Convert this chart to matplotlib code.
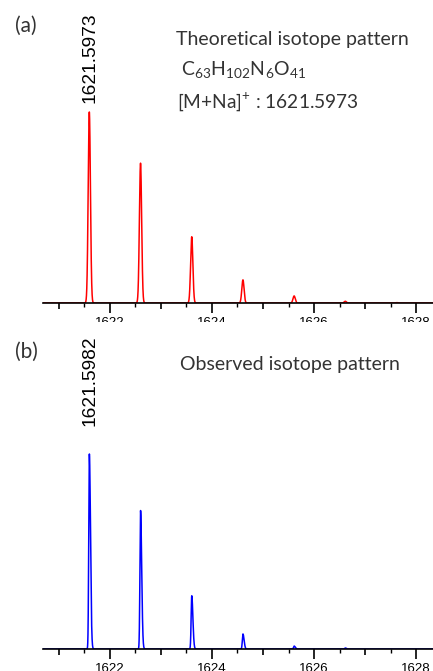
import numpy as np
import matplotlib
matplotlib.use("Agg")
import matplotlib.pyplot as plt
from matplotlib.ticker import MultipleLocator, FuncFormatter

# ---- data ----
theo_mz = [1621.5973, 1622.6006, 1623.6037, 1624.6066, 1625.6094, 1626.612, 1627.615]
theo_int = [100, 73.2, 34.7, 12.1, 3.7, 0.9, 0.2]
obs_mz = [1621.5982, 1622.6010, 1623.6040, 1624.6070, 1625.6100, 1626.6120]
obs_int = [100, 71.0, 27.3, 7.7, 1.5, 0.5]
xticks = [1622, 1624, 1626, 1628]
theo_label = "1621.5973"
obs_label = "1621.5982"

W, H = 433, 671
fig = plt.figure(figsize=(W / 100, H / 100), dpi=100)
plt.rcParams['mathtext.fontset'] = 'custom'
plt.rcParams['mathtext.rm'] = 'Lato'

xmin, xmax = 1620.69, 1628.33
TXT = '#333333'


def fx(px):
    return px / W


def fy(py):
    return 1 - py / H


def profile(x, centers, heights, sl, sr):
    y = np.zeros_like(x)
    for c, h in zip(centers, heights):
        d = x - c
        s = np.where(d < 0, sl, sr)
        y += h * np.exp(-0.5 * (d / s) ** 2)
    return y


def style(ax):
    ax.set_xlim(xmin, xmax)
    for s in ['top', 'left', 'right']:
        ax.spines[s].set_visible(False)
    ax.spines['bottom'].set_linewidth(1.2)
    ax.set_yticks([])
    ax.xaxis.set_major_locator(MultipleLocator(1))
    ax.xaxis.set_minor_locator(MultipleLocator(0.5))
    ax.xaxis.set_major_formatter(FuncFormatter(
        lambda v, p: str(int(round(v))) if int(round(v)) in xticks else ""))
    ax.tick_params(axis='x', which='major', length=7, width=1.2, labelsize=9.5, pad=3)
    ax.tick_params(axis='x', which='minor', length=3, width=1.0)
    fig.canvas.draw()
    for t in ax.xaxis.get_major_ticks():
        v = int(round(t.get_loc()))
        if v not in xticks:
            t.tick1line.set_markersize(4.5)
    for lab in ax.get_xticklabels():
        lab.set_fontfamily('Liberation Sans')


x = np.linspace(xmin, xmax, 20000)

# top axes
base1, peak1 = 303, 112
ax1 = fig.add_axes([fx(43), fy(base1), 1 - fx(43), fy(0) - fy(base1)])
ax1.patch.set_alpha(0)
ax1.plot(x, profile(x, theo_mz, theo_int, 0.022, 0.022), color='red', lw=1.1)
ax1.set_ylim(0, 100 * base1 / (base1 - peak1))
style(ax1)

# bottom axes (white patch covers the clipped tick labels of the top panel)
base2, peak2, top2 = 649, 454, 322
ax2 = fig.add_axes([fx(43), fy(base2), 1 - fx(43), fy(top2) - fy(base2)])
ax2.patch.set_facecolor('white')
ax2.plot(x, profile(x, obs_mz, obs_int, 0.012, 0.022), color='blue', lw=1.1)
ax2.set_ylim(0, 100 * (base2 - top2) / (base2 - peak2))
style(ax2)
ax2.set_zorder(2)

# texts
fig.text(fx(15), fy(26), "(a)", fontsize=15, family='Lato', va='center', ha='left', color=TXT)
fig.text(fx(15), fy(352), "(b)", fontsize=15, family='Lato', va='center', ha='left',
         color=TXT, zorder=5)
fig.text(fx(90), fy(103), theo_label, rotation=90, family='Liberation Sans',
         fontsize=13.8, ha='center', va='bottom')
fig.text(fx(90), fy(426), obs_label, rotation=90, family='Liberation Sans',
         fontsize=13.8, ha='center', va='bottom', zorder=5)
fig.text(fx(176), fy(45), "Theoretical isotope pattern", fontsize=14, family='Lato',
         va='baseline', ha='left', color=TXT)
fig.text(fx(181), fy(76), r"C$_{\mathregular{63}}$H$_{\mathregular{102}}$N$_{\mathregular{6}}$O$_{\mathregular{41}}$",
         fontsize=14, family='Lato', va='baseline', ha='left', color=TXT)
fig.text(fx(177), fy(108), r"[M+Na]$^{\mathregular{+}}$ : 1621.5973", fontsize=13.8, family='Lato',
         va='baseline', ha='left', color=TXT)
fig.text(fx(180), fy(370), "Observed isotope pattern", fontsize=14, family='Lato',
         va='baseline', ha='left', color=TXT, zorder=5)

fig.savefig("out.png", dpi=100)
